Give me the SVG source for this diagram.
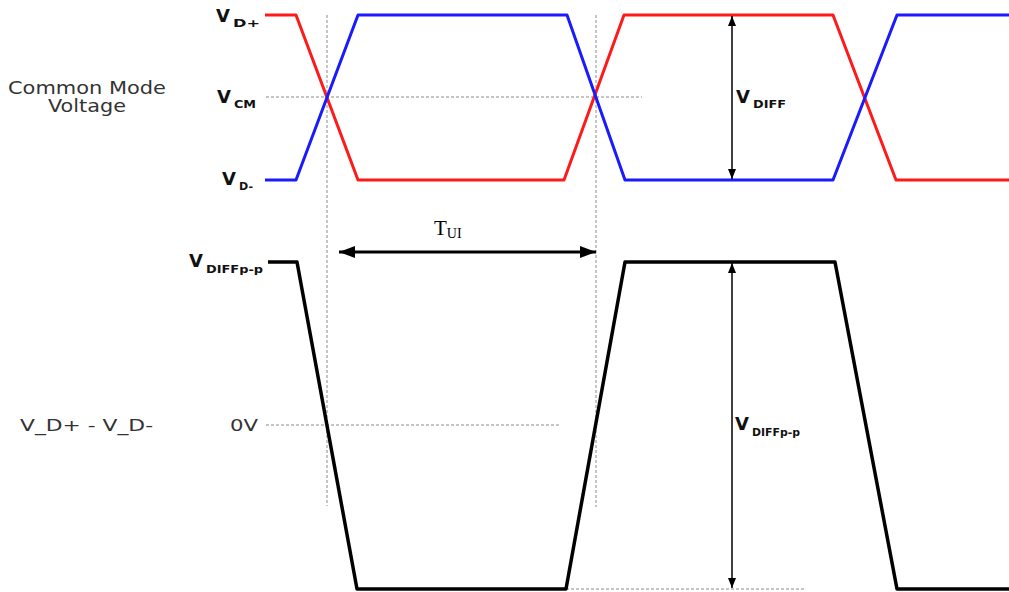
<svg xmlns="http://www.w3.org/2000/svg" width="1009" height="592" viewBox="0 0 1009 592">
<style>
.lbl{font-family:"DejaVu Sans",sans-serif;fill:#333;}
.vb{font-family:"DejaVu Sans",sans-serif;font-weight:bold;fill:#111;}
.dash{stroke:#8a8a8a;stroke-width:1;stroke-dasharray:3,2;fill:none;}
.red{stroke:#ff1a1a;stroke-width:3;fill:none;stroke-linejoin:round;}
.blue{stroke:#1a1aff;stroke-width:3;fill:none;stroke-linejoin:round;}
.blk{stroke:#000;stroke-width:3.5;fill:none;stroke-linejoin:round;}
.arr{stroke:#000;stroke-width:1.5;fill:none;}
.arrT{stroke:#000;stroke-width:3;fill:none;}
</style>
<defs>
<marker id="ah" markerWidth="10" markerHeight="8" refX="10" refY="4" orient="auto-start-reverse" markerUnits="userSpaceOnUse"><path d="M0,0 L10,4 L0,8 Z" fill="#000"/></marker>
<marker id="ahT" markerWidth="16" markerHeight="12" refX="16" refY="6" orient="auto-start-reverse" markerUnits="userSpaceOnUse"><path d="M0,0 L16,6 L0,12 Z" fill="#000"/></marker>
</defs>
<rect width="1009" height="592" fill="#fff"/>
<g id="guides">
<line class="dash" x1="327" y1="15" x2="327" y2="506"/>
<line class="dash" x1="596" y1="15" x2="596" y2="507"/>
<line class="dash" x1="266" y1="97" x2="642" y2="97"/>
<line class="dash" x1="266" y1="425" x2="560" y2="425"/>
<line class="dash" x1="566" y1="589" x2="806" y2="589"/>
</g>
<g id="signal-dplus"><polyline class="red" points="265,15 296,15 358,180 564,180 624,15 833,15 896,180 1009,180"/></g>
<g id="signal-dminus"><polyline class="blue" points="265,180 296,180 358,15 567,15 625,180 833,180 897,15 1009,15"/></g>
<g id="signal-diff"><polyline class="blk" points="268,262 297,262 357,589 566,589 625,262 835,262 897,589 1009,589"/></g>
<g id="connectors">
<line class="arr" x1="732" y1="16" x2="732" y2="179" marker-start="url(#ah)" marker-end="url(#ah)"/>
<line class="arr" x1="732" y1="263" x2="732" y2="588" marker-start="url(#ah)" marker-end="url(#ah)"/>
<line class="arrT" x1="339" y1="252" x2="596" y2="252" marker-start="url(#ahT)" marker-end="url(#ahT)"/>
</g>
<g id="label-common-mode">
<text class="lbl" x="8" y="94" font-size="17" textLength="158" lengthAdjust="spacingAndGlyphs">Common Mode</text>
<text class="lbl" x="48" y="112" font-size="17" textLength="78" lengthAdjust="spacingAndGlyphs">Voltage</text>
</g>
<g id="label-vdplus"><text class="vb" x="216" y="22" font-size="18">V</text><text class="vb" x="233" y="27" font-size="11" textLength="27" lengthAdjust="spacingAndGlyphs">D+</text></g>
<g id="label-vcm"><text class="vb" x="217" y="103" font-size="18">V</text><text class="vb" x="234" y="108" font-size="11" textLength="22" lengthAdjust="spacingAndGlyphs">CM</text></g>
<g id="label-vdminus"><text class="vb" x="222" y="185" font-size="18">V</text><text class="vb" x="239" y="190" font-size="11" textLength="14" lengthAdjust="spacingAndGlyphs">D-</text></g>
<g id="label-vdiff"><text class="vb" x="736" y="103" font-size="18">V</text><text class="vb" x="753" y="108" font-size="11" textLength="33" lengthAdjust="spacingAndGlyphs">DIFF</text></g>
<g id="label-vdiffpp-left"><text class="vb" x="189" y="267" font-size="18">V</text><text class="vb" x="206" y="273" font-size="11" textLength="57" lengthAdjust="spacingAndGlyphs">DIFFp-p</text></g>
<g id="label-vdiffpp-right"><text class="vb" x="735" y="430" font-size="18">V</text><text class="vb" x="752" y="436" font-size="11" textLength="48" lengthAdjust="spacingAndGlyphs">DIFFp-p</text></g>
<g id="label-vd-diff"><text class="lbl" x="20" y="431" font-size="16" textLength="133" lengthAdjust="spacingAndGlyphs">V_D+ - V_D-</text></g>
<g id="label-0v"><text class="lbl" x="230" y="431" font-size="16" textLength="28" lengthAdjust="spacingAndGlyphs">0V</text></g>
<g id="label-tui"><text font-family="'Liberation Serif',serif" x="434" y="235" font-size="21" fill="#000">T<tspan font-size="14" dy="3">UI</tspan></text></g>
</svg>
